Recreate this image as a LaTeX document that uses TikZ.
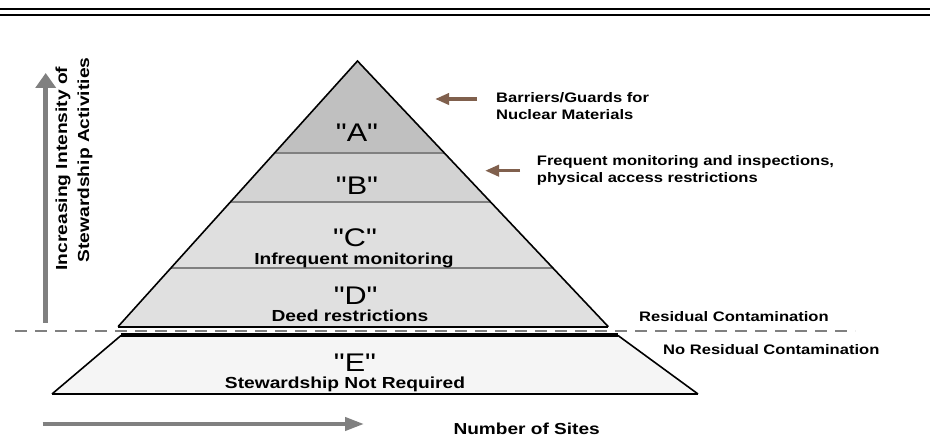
\documentclass[tikz,border=0pt]{standalone}
\usepackage{fontspec}
\setmainfont{Liberation Sans}
\newfontfamily\labfont[FakeStretch=1.2]{Liberation Sans}
\usetikzlibrary{arrows.meta,calc}
\definecolor{arrowgray}{RGB}{128,128,128}
\definecolor{brownarrow}{RGB}{128,96,77}
\definecolor{layerA}{RGB}{192,192,192}
\definecolor{layerB}{RGB}{211,211,211}
\definecolor{layerC}{RGB}{223,223,223}
\definecolor{layerD}{RGB}{224,224,224}
\definecolor{layerE}{RGB}{245,245,245}
\tikzset{
  big/.style={font=\labfont\fontsize{25.5}{30}\selectfont, inner sep=0pt, anchor=base},
  sub/.style={font=\labfont\bfseries\fontsize{16}{19}\selectfont, inner sep=0pt, anchor=base},
  note/.style={font=\labfont\bfseries\fontsize{13.8}{16.7}\selectfont, inner sep=0pt, anchor=base west},
  axislabel/.style={font=\labfont\bfseries\fontsize{16}{19}\selectfont, inner sep=0pt, anchor=base, rotate=90},
  sepline/.style={draw=arrowgray, line width=2pt},
  outline/.style={draw=black, line width=1.6pt, line join=miter},
  grayarrow/.style={draw=arrowgray, line width=5pt, -{Triangle[width=20pt,length=15pt]}},
  grayharrow/.style={draw=arrowgray, line width=4pt, -{Triangle[width=13pt,length=19pt]}},
  brownarr/.style={draw=brownarrow, line width=3.5pt, -{Triangle[width=11pt,length=14pt]}},
}
\begin{document}
\begin{tikzpicture}[x=1pt,y=-1pt]
\path[use as bounding box] (0,0) rectangle (930,438);
\fill[white] (0,0) rectangle (930,438);

% top double rule
\draw[line width=2.1pt] (0,8.7) -- (930,8.7);
\draw[line width=2.3pt] (0,14.8) -- (930,14.8);

% pyramid
\coordinate (apex) at (357.5,61);
\coordinate (bl) at (118,326.7);
\coordinate (br) at (608.3,326.7);
\coordinate (abL) at ($(apex)!0.345!(bl)$);
\coordinate (abR) at ($(apex)!0.345!(br)$);
\coordinate (bcL) at ($(apex)!0.5303!(bl)$);
\coordinate (bcR) at ($(apex)!0.5303!(br)$);
\coordinate (cdL) at ($(apex)!0.7802!(bl)$);
\coordinate (cdR) at ($(apex)!0.7802!(br)$);

\fill[layerA] (apex) -- (abR) -- (abL) -- cycle;
\fill[layerB] (abL) -- (abR) -- (bcR) -- (bcL) -- cycle;
\fill[layerC] (bcL) -- (bcR) -- (cdR) -- (cdL) -- cycle;
\fill[layerD] (cdL) -- (cdR) -- (br) -- (bl) -- cycle;
\draw[sepline] (abL) -- (abR);
\draw[sepline] (bcL) -- (bcR);
\draw[sepline] (cdL) -- (cdR);
\draw[outline] (bl) -- (apex) -- (br);
\draw[line width=2pt] (bl) -- (br);

% trapezoid E
\coordinate (etl) at (121,335.5);
\coordinate (etr) at (618,335.5);
\coordinate (ebl) at (52,394);
\coordinate (ebr) at (698,394);
\fill[layerE] (etl) -- (etr) -- (ebr) -- (ebl) -- cycle;
\draw[outline] (etl) -- (ebl);
\draw[outline] (etr) -- (ebr);
\draw[line width=2.2pt] (ebl) -- (ebr);
\draw[line width=4pt] (etl) -- (etr);

% dashed boundary
\coordinate (dashL) at (15,331);
\coordinate (dashR) at (855,331);
\draw[arrowgray, line width=2pt, dash pattern=on 11.7pt off 8.3pt] (dashL) -- (dashR);

% axis arrows
\coordinate (vbot) at (45.7,323);
\coordinate (vtop) at (45.7,73);
\draw[grayarrow] (vbot) -- (vtop);
\coordinate (hleft) at (42.7,424);
\coordinate (hright) at (364,424);
\draw[grayharrow] (hleft) -- (hright);

% brown pointer arrows
\coordinate (b1tail) at (477,99);
\coordinate (b1tip) at (435,99);
\draw[brownarr] (b1tail) -- (b1tip);
\coordinate (b2tail) at (520,170.7);
\coordinate (b2tip) at (485,170.7);
\draw[brownarr] (b2tail) -- (b2tip);

% layer labels
\node[big] (lA) at (357,141.5) {"A"};
\node[big] (lB) at (357,195) {"B"};
\node[big] (lC) at (355,246.5) {"C"};
\node[sub] (lCs) at (354,265) {Infrequent monitoring};
\node[big] (lD) at (355.7,305) {"D"};
\node[sub] (lDs) at (350,321.5) {Deed restrictions};
\node[big] (lE) at (355,371.5) {"E"};
\node[sub] (lEs) at (345,388.5) {Stewardship Not Required};

% axis labels
\node[axislabel] (ax1) at (67,168.5) {Increasing Intensity of};
\node[axislabel] (ax2) at (89,160) {Stewardship Activities};
\node[note, font=\labfont\bfseries\fontsize{15.9}{19}\selectfont] (ax3) at (453.3,435) {Number of Sites};

% annotations
\node[note] (n1) at (496,102.7) {\begin{tabular}[t]{@{}l@{}}Barriers/Guards for\\Nuclear Materials\end{tabular}};
\node[note] (n2) at (536.7,166) {\begin{tabular}[t]{@{}l@{}}Frequent monitoring and inspections,\\physical access restrictions\end{tabular}};
\node[note] (n3) at (639,321.7) {Residual Contamination};
\node[note] (n4) at (663,355) {No Residual Contamination};
\end{tikzpicture}
\end{document}
